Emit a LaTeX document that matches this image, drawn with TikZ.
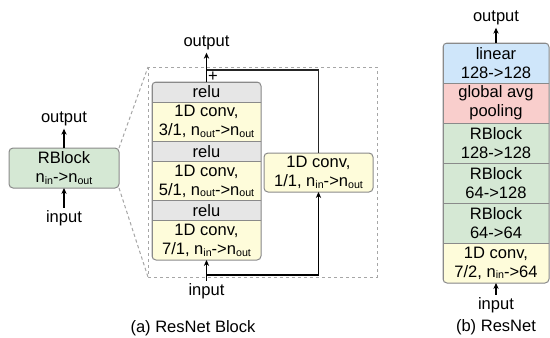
\documentclass[tikz,border=0pt]{standalone}
\usepackage{fontspec}
\setmainfont{Liberation Sans}
\usepackage{tikz}
\usetikzlibrary{arrows.meta,positioning}

\definecolor{boxgray}{HTML}{E6E6E6}
\definecolor{boxyellow}{HTML}{FEFCDA}
\definecolor{boxgreen}{HTML}{D5E8D4}
\definecolor{boxblue}{HTML}{CFE6FA}
\definecolor{boxred}{HTML}{F9CECC}
\definecolor{edgegray}{HTML}{8A8A8A}
\definecolor{dashgray}{HTML}{A6A6A6}

\newcommand\nsub[1]{\raisebox{-0.2ex}{\fontsize{8}{9}\selectfont #1}}

\tikzset{
  cell/.style={draw=edgegray, line width=0.75pt, inner sep=0pt, outer sep=0pt, align=center},
  relucell/.style={cell, fill=boxgray, minimum width=81.75pt, minimum height=15pt},
  convcell/.style={cell, fill=boxyellow, minimum width=81.75pt, minimum height=29.5pt},
  netcell/.style={cell, minimum width=79.5pt, minimum height=30pt},
  lbl/.style={inner sep=2pt, outer sep=0pt},
  arr/.style={draw=black, line width=0.8pt, -{Stealth[length=4.5pt,width=4pt]}},
  wire/.style={draw=black!85, line width=0.8pt},
  zoomline/.style={draw=dashgray, line width=0.75pt, dash pattern=on 2.5pt off 2pt}
}

\begin{document}
\begin{tikzpicture}[x=0.75pt,y=0.75pt,yscale=-1,xscale=1,font=\fontsize{12.4}{14.25}\selectfont]
\useasboundingbox (0,0) rectangle (550,337);

%Shape: RBlock (left)
\node[cell, fill=boxgreen, rounded corners=3pt, minimum width=82.5pt, minimum height=30pt] (rblk) at (64,168) {RBlock\\n\nsub{in}->n\nsub{out}};
\node[lbl] (outL) at (64,119) {output};
\node[lbl] (inL) at (64,218) {input};
\draw[arr] (rblk.north) -- (outL.south);
\draw[arr] (inL.north) -- (rblk.south);

%Shape: dashed frame of the block
\coordinate (fnw) at (148,67);
\coordinate (fse) at (377,277);
\coordinate (fsw) at (148,277);
\draw[zoomline] (fnw) rectangle (fse);
\draw[zoomline] (rblk.north east) -- (fnw);
\draw[zoomline] (rblk.south east) -- (fsw);

%Shape: main branch
\begin{scope}
\clip[rounded corners=3pt] (152,82) rectangle (261,259.9);
\node[relucell] (r1) at (206.5,92) {relu};
\node[convcell, below=0pt of r1] (c1) {1D conv,\\3/1, n\nsub{out}->n\nsub{out}};
\node[relucell, below=0pt of c1] (r2) {relu};
\node[convcell, below=0pt of r2] (c2) {1D conv,\\5/1, n\nsub{out}->n\nsub{out}};
\node[relucell, below=0pt of c2] (r3) {relu};
\node[convcell, below=0pt of r3] (c3) {1D conv,\\7/1, n\nsub{in}->n\nsub{out}};
\end{scope}
\draw[draw=edgegray, line width=0.75pt, rounded corners=3pt] (r1.north west) rectangle (c3.south east);

%Shape: shortcut
\node[cell, fill=boxyellow, rounded corners=3pt, minimum width=81.75pt, minimum height=29.25pt] (sc) at (318.5,172.5) {1D conv,\\1/1, n\nsub{in}->n\nsub{out}};

\node[lbl] (outM) at (206.5,43) {output};
\node[lbl] (inM) at (206.5,291) {input};
\node[inner sep=0pt] (plus) at (213,77) {+};
\coordinate (jn) at (206.5,70);
\coordinate (br) at (206.5,275);
\draw[wire] (sc.north) |- (jn);
\draw[arr] (r1.north) -- (outM.south);
\draw[arr] (inM.north) -- (c3.south);
\draw[arr] (br) -| (sc.south);

\node (capA) at (193,328) {(a) ResNet Block};

%Shape: ResNet stack (right)
\begin{scope}
\clip[rounded corners=3pt] (443,43) rectangle (549,283);
\node[netcell, fill=boxblue] (lin) at (496,63) {linear\\128->128};
\node[netcell, fill=boxred, below=0pt of lin] (pool) {global avg\\pooling};
\node[netcell, fill=boxgreen, below=0pt of pool] (rb3) {RBlock\\128->128};
\node[netcell, fill=boxgreen, below=0pt of rb3] (rb2) {RBlock\\64->128};
\node[netcell, fill=boxgreen, below=0pt of rb2] (rb1) {RBlock\\64->64};
\node[netcell, fill=boxyellow, below=0pt of rb1] (stem) {1D conv,\\7/2, n\nsub{in}->64};
\end{scope}
\draw[draw=edgegray, line width=0.75pt, rounded corners=3pt] (lin.north west) rectangle (stem.south east);

\node[lbl] (outR) at (496,18) {output};
\node[lbl] (inR) at (496,305) {input};
\draw[arr] (lin.north) -- (outR.south);
\draw[arr] (inR.north) -- (stem.south);

\node (capB) at (496,327) {(b) ResNet};

\end{tikzpicture}
\end{document}
